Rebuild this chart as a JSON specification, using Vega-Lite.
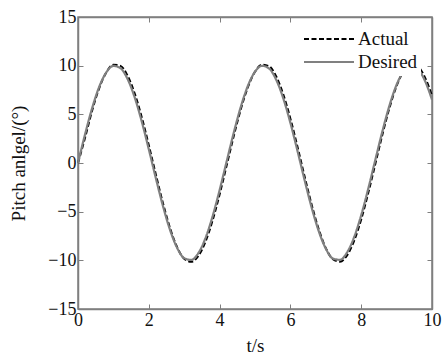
{
  "$schema": "https://vega.github.io/schema/vega-lite/v6.json",
  "width": 354,
  "height": 292,
  "autosize": {"type": "none"},
  "padding": {"left": 78, "top": 17, "right": 10, "bottom": 49},
  "background": "white",
  "config": {
    "font": "Liberation Serif",
    "view": {"stroke": "#7f7f7f", "strokeWidth": 1.5},
    "axis": {
      "domainColor": "#7f7f7f",
      "domainWidth": 1.5,
      "tickColor": "#7f7f7f",
      "tickWidth": 1,
      "tickSize": -5,
      "grid": false,
      "labelFont": "Liberation Serif",
      "labelFontSize": 18,
      "labelColor": "#111",
      "titleFont": "Liberation Serif",
      "titleFontSize": 19,
      "titleFontWeight": "normal",
      "titleColor": "#111"
    }
  },
  "data": {
    "values": [
      {"t": 0.0, "Actual": 0.00, "Desired": 0.000},
      {"t": 0.2, "Actual": 2.61, "Desired": 2.955},
      {"t": 0.4, "Actual": 5.40, "Desired": 5.646},
      {"t": 0.6, "Actual": 7.70, "Desired": 7.833},
      {"t": 0.8, "Actual": 9.31, "Desired": 9.320},
      {"t": 1.0, "Actual": 10.10, "Desired": 9.975},
      {"t": 1.2, "Actual": 9.98, "Desired": 9.738},
      {"t": 1.4, "Actual": 8.97, "Desired": 8.632},
      {"t": 1.6, "Actual": 7.16, "Desired": 6.755},
      {"t": 1.8, "Actual": 4.71, "Desired": 4.274},
      {"t": 2.0, "Actual": 1.83, "Desired": 1.411},
      {"t": 2.2, "Actual": -1.20, "Desired": -1.577},
      {"t": 2.4, "Actual": -4.13, "Desired": -4.425},
      {"t": 2.6, "Actual": -6.69, "Desired": -6.878},
      {"t": 2.8, "Actual": -8.65, "Desired": -8.716},
      {"t": 3.0, "Actual": -9.84, "Desired": -9.775},
      {"t": 3.2, "Actual": -10.15, "Desired": -9.962},
      {"t": 3.4, "Actual": -9.55, "Desired": -9.258},
      {"t": 3.6, "Actual": -8.10, "Desired": -7.728},
      {"t": 3.8, "Actual": -5.93, "Desired": -5.507},
      {"t": 4.0, "Actual": -3.23, "Desired": -2.794},
      {"t": 4.2, "Actual": -0.24, "Desired": 0.168},
      {"t": 4.4, "Actual": 2.78, "Desired": 3.115},
      {"t": 4.6, "Actual": 5.54, "Desired": 5.784},
      {"t": 4.8, "Actual": 7.81, "Desired": 7.937},
      {"t": 5.0, "Actual": 9.38, "Desired": 9.380},
      {"t": 5.2, "Actual": 10.11, "Desired": 9.985},
      {"t": 5.4, "Actual": 9.94, "Desired": 9.699},
      {"t": 5.6, "Actual": 8.89, "Desired": 8.546},
      {"t": 5.8, "Actual": 7.03, "Desired": 6.630},
      {"t": 6.0, "Actual": 4.55, "Desired": 4.121},
      {"t": 6.2, "Actual": 1.67, "Desired": 1.245},
      {"t": 6.4, "Actual": -1.37, "Desired": -1.743},
      {"t": 6.6, "Actual": -4.28, "Desired": -4.575},
      {"t": 6.8, "Actual": -6.81, "Desired": -6.999},
      {"t": 7.0, "Actual": -8.74, "Desired": -8.797},
      {"t": 7.2, "Actual": -9.88, "Desired": -9.809},
      {"t": 7.4, "Actual": -10.14, "Desired": -9.946},
      {"t": 7.6, "Actual": -9.49, "Desired": -9.193},
      {"t": 7.8, "Actual": -8.00, "Desired": -7.620},
      {"t": 8.0, "Actual": -5.79, "Desired": -5.366},
      {"t": 8.2, "Actual": -3.06, "Desired": -2.632},
      {"t": 8.4, "Actual": -0.07, "Desired": 0.336},
      {"t": 8.6, "Actual": 2.94, "Desired": 3.275},
      {"t": 8.8, "Actual": 5.68, "Desired": 5.921},
      {"t": 9.0, "Actual": 7.92, "Desired": 8.038},
      {"t": 9.2, "Actual": 9.44, "Desired": 9.437},
      {"t": 9.4, "Actual": 10.13, "Desired": 9.993},
      {"t": 9.6, "Actual": 9.91, "Desired": 9.657},
      {"t": 9.8, "Actual": 8.80, "Desired": 8.457},
      {"t": 10.0, "Actual": 6.91, "Desired": 6.503}
    ]
  },
  "transform": [{"fold": ["Actual", "Desired"], "as": ["series", "pitch"]}],
  "layer": [
    {
      "transform": [{"filter": "datum.series === 'Actual'"}],
      "mark": {"type": "line", "strokeWidth": 2, "interpolate": "monotone"},
      "encoding": {
        "x": {
          "field": "t", "type": "quantitative",
          "scale": {"domain": [0, 10], "nice": false},
          "axis": {"values": [0, 2, 4, 6, 8, 10], "title": "t/s", "labelPadding": 7, "titlePadding": 7, "labelFlush": false}
        },
        "y": {
          "field": "pitch", "type": "quantitative",
          "scale": {"domain": [-15, 15], "nice": false},
          "axis": {"values": [-15, -10, -5, 0, 5, 10, 15], "title": "Pitch anlgel/(°)", "labelPadding": 7, "titlePadding": 19}
        },
        "color": {
          "field": "series", "type": "nominal",
          "scale": {"domain": ["Actual", "Desired"], "range": ["#000000", "#808080"]},
          "legend": {
            "title": null, "orient": "none", "legendX": 222, "legendY": 8,
            "fillColor": "white", "padding": 3,
            "symbolType": "stroke", "symbolSize": 2500, "symbolStrokeWidth": 2,
            "clipHeight": 22, "rowPadding": 1,
            "labelFont": "Liberation Serif", "labelFontSize": 19, "labelColor": "#111",
            "labelOffset": 3
          }
        },
        "strokeDash": {
          "field": "series", "type": "nominal",
          "scale": {"domain": ["Actual", "Desired"], "range": [[5, 2.5], [1, 0]]},
          "legend": null
        }
      }
    },
    {
      "transform": [{"filter": "datum.series === 'Desired'"}],
      "mark": {"type": "line", "strokeWidth": 2.2, "interpolate": "monotone"},
      "encoding": {
        "x": {"field": "t", "type": "quantitative", "axis": null},
        "y": {"field": "pitch", "type": "quantitative", "axis": null},
        "color": {"field": "series", "type": "nominal"},
        "strokeDash": {"field": "series", "type": "nominal"}
      }
    },
    {
      "mark": {"type": "line", "opacity": 0},
      "encoding": {
        "x": {
          "field": "t", "type": "quantitative",
          "axis": {"orient": "top", "values": [0, 2, 4, 6, 8, 10], "labels": false, "title": null}
        },
        "y": {
          "field": "pitch", "type": "quantitative",
          "axis": {"orient": "right", "values": [-15, -10, -5, 0, 5, 10, 15], "labels": false, "title": null}
        },
        "detail": {"field": "series", "type": "nominal"}
      }
    }
  ],
  "resolve": {"axis": {"x": "independent", "y": "independent"}}
}
